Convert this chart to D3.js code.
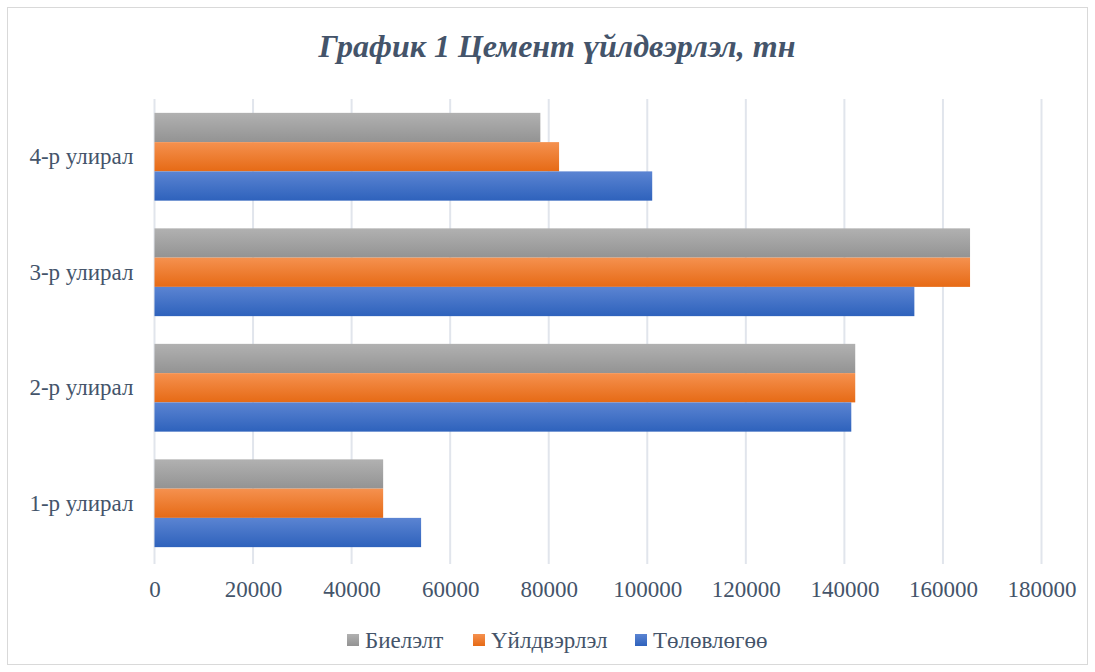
<!DOCTYPE html>
<html>
<head>
<meta charset="utf-8">
<script src="https://cdn.jsdelivr.net/npm/d3@7"></script>
<style>
  body { margin: 0; background: #fff; }
  text { font-family: "Liberation Serif", "Times New Roman", serif; }
</style>
</head>
<body>
<script>
// data
const quarters  = ["1-р улирал", "2-р улирал", "3-р улирал", "4-р улирал"];
const seriesNames = ["Биелэлт", "Үйлдвэрлэл", "Төлөвлөгөө"];
const bielelt   = [46400, 142200, 165500, 78300];
const uildverlel = [46400, 142200, 165500, 82100];
const tolovlogoo = [54100, 141400, 154200, 101000];
const xTicks    = [0, 20000, 40000, 60000, 80000, 100000, 120000, 140000, 160000, 180000];

const seriesValues = [bielelt, uildverlel, tolovlogoo];
const colors = [
    ["#b1b1b1", "#939393"],
    ["#f5914f", "#e66a15"],
    ["#5b84d2", "#2e62bc"]
];

const width = 1095, height = 672;
const marginLeft = 154.5, marginRight = 53.5, marginTop = 99, marginBottom = 111;
const textColor = "#44546a";

const svg = d3.select("body").append("svg")
    .attr("width", width)
    .attr("height", height);

// gradients like the office style bars
const defs = svg.append("defs");
colors.forEach((c, i) => {
    const g = defs.append("linearGradient")
        .attr("id", "grad" + i)
        .attr("x1", "0%").attr("x2", "0%")
        .attr("y1", "0%").attr("y2", "100%");
    g.append("stop").attr("offset", "0%").attr("stop-color", c[0]);
    g.append("stop").attr("offset", "100%").attr("stop-color", c[1]);
});

// chart frame
svg.append("rect")
    .attr("x", 7.5).attr("y", 7.5)
    .attr("width", width - 15).attr("height", height - 15)
    .attr("fill", "#fff")
    .attr("stroke", "#d9d9d9");

const x = d3.scaleLinear()
    .domain([0, 180000])
    .range([marginLeft, width - marginRight]);

// 4-р улирал on top
const y = d3.scaleBand()
    .domain(quarters.slice().reverse())
    .range([marginTop, height - marginBottom])
    .paddingInner(0.24)
    .paddingOuter(0.12);

const y1 = d3.scaleBand()
    .domain(d3.range(seriesNames.length))
    .range([0, y.bandwidth()]);

// gridlines
svg.append("g")
    .selectAll("line")
    .data(xTicks)
    .enter()
    .append("line")
        .attr("x1", d => x(d)).attr("x2", d => x(d))
        .attr("y1", marginTop).attr("y2", height - marginBottom + 3)
        .attr("stroke", "#e1e5ec")
        .attr("stroke-width", 2);

// bars
const groups = svg.append("g")
    .selectAll("g")
    .data(quarters)
    .enter()
    .append("g")
        .attr("transform", d => `translate(0,${y(d)})`);

groups.selectAll("rect")
    .data((q, qi) => seriesValues.map((vals, si) => ({ si, v: vals[qi] })))
    .enter()
    .append("rect")
        .attr("x", x(0))
        .attr("y", d => y1(d.si))
        .attr("width", d => x(d.v) - x(0))
        .attr("height", y1.bandwidth())
        .attr("fill", d => `url(#grad${d.si})`);

// x axis labels
const xAxis = d3.axisBottom(x)
    .tickValues(xTicks)
    .tickFormat(d3.format("d"))
    .tickSize(0)
    .tickPadding(20);

svg.append("g")
    .attr("transform", `translate(0,${height - marginBottom})`)
    .call(xAxis)
    .call(g => g.select(".domain").remove())
    .call(g => g.selectAll("text")
        .attr("fill", textColor)
        .style("font-family", "'Liberation Serif', serif")
        .style("font-size", "23px"));

// y axis labels
const yAxis = d3.axisLeft(y).tickSize(0).tickPadding(21);
svg.append("g")
    .attr("transform", `translate(${marginLeft},0)`)
    .call(yAxis)
    .call(g => g.select(".domain").remove())
    .call(g => g.selectAll("text")
        .attr("fill", textColor)
        .style("font-family", "'Liberation Serif', serif")
        .style("font-size", "23px"));

// title
svg.append("text")
    .attr("x", 557)
    .attr("y", 57)
    .attr("text-anchor", "middle")
    .attr("fill", textColor)
    .style("font-size", "32px")
    .style("font-weight", "bold")
    .style("font-style", "italic")
    .text("График 1 Цемент үйлдвэрлэл, тн");

// legend
const legendX = [347, 473, 635];
const legend = svg.append("g")
    .selectAll("g")
    .data(seriesNames)
    .enter()
    .append("g")
        .attr("transform", (d, i) => `translate(${legendX[i]},640)`);

legend.append("rect")
    .attr("x", 0).attr("y", -6)
    .attr("width", 12).attr("height", 12)
    .attr("fill", (d, i) => `url(#grad${i})`);

legend.append("text")
    .attr("x", 18)
    .attr("y", 8)
    .attr("fill", textColor)
    .style("font-size", "23px")
    .text(d => d);
</script>
</body>
</html>
